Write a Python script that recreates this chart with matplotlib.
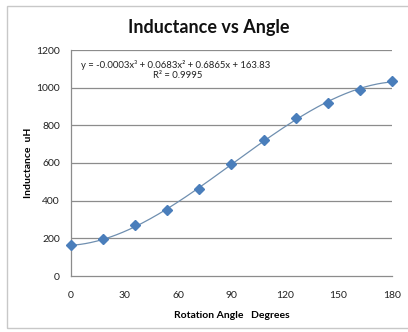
import numpy as np
import matplotlib
matplotlib.use("Agg")
import matplotlib.pyplot as plt
from matplotlib.patches import Rectangle

# Measured inductance at each rotation angle
angle_deg = [0, 18, 36, 54, 72, 90, 108, 126, 144, 162, 180]
inductance_uh = [162, 195, 270, 351, 460, 597, 722, 837, 918, 990, 1035]

x_ticks = [0, 30, 60, 90, 120, 150, 180]
y_ticks = [0, 200, 400, 600, 800, 1000, 1200]

equation_text = "y = -0.0003x\u00b3 + 0.0683x\u00b2 + 0.6865x + 163.83"
r2_text = "R\u00b2 = 0.9995"

plt.rcParams["font.family"] = ["Lato", "DejaVu Sans"]

W, H = 408, 332
fig = plt.figure(figsize=(W / 100, H / 100), dpi=100)
fig.patch.set_facecolor("white")

# chart frame
fig.patches.append(Rectangle((7 / W, 4 / H), 1.2, (H - 10) / H, transform=fig.transFigure,
                             fill=False, edgecolor="#c8c8c8", linewidth=1.0))

ax = fig.add_axes([71 / W, (H - 276) / H, (392 - 71) / W, (276 - 50) / H])

grid_color = "#8c8c8c"
for v in y_ticks[1:]:
    ax.axhline(v, color=grid_color, linewidth=0.9, zorder=1)

# cubic trend line
coef = np.polyfit(angle_deg, inductance_uh, 3)
xs = np.linspace(min(angle_deg), max(angle_deg), 200)
ax.plot(xs, np.polyval(coef, xs), color="#6f8fb0", linewidth=0.9, zorder=2)

ax.plot(angle_deg, inductance_uh, linestyle="none", marker="D", markersize=4.6,
        color="#4a7ebb", markeredgecolor="#4a7ebb", zorder=3, clip_on=False)

ax.set_xlim(0, 180)
ax.set_ylim(0, 1200)
ax.set_xticks(x_ticks)
ax.set_yticks(y_ticks)
ax.tick_params(axis="both", length=0, labelsize=7.5, colors="#222222")
ax.tick_params(axis="x", pad=11)
ax.tick_params(axis="y", pad=8)

for s in ["top", "right"]:
    ax.spines[s].set_visible(False)
for s in ["left", "bottom"]:
    ax.spines[s].set_color(grid_color)
    ax.spines[s].set_linewidth(0.9)

ax.set_xlabel("Rotation Angle   Degrees", fontsize=7.5, fontweight="bold", labelpad=8)
ax.set_ylabel("Inductance  uH", fontsize=7.5, fontweight="bold", labelpad=2)

fig.text(209 / W, 1 - 27 / H, "Inductance vs Angle", ha="center", va="center",
         fontsize=13, fontweight="bold", color="#111111")

fig.text(176 / W, 1 - 65 / H, equation_text, ha="center", va="center", fontsize=6.8, color="#222222")
fig.text(178 / W, 1 - 76 / H, r2_text, ha="center", va="center", fontsize=6.8, color="#222222")

fig.savefig("out.png", dpi=100)
